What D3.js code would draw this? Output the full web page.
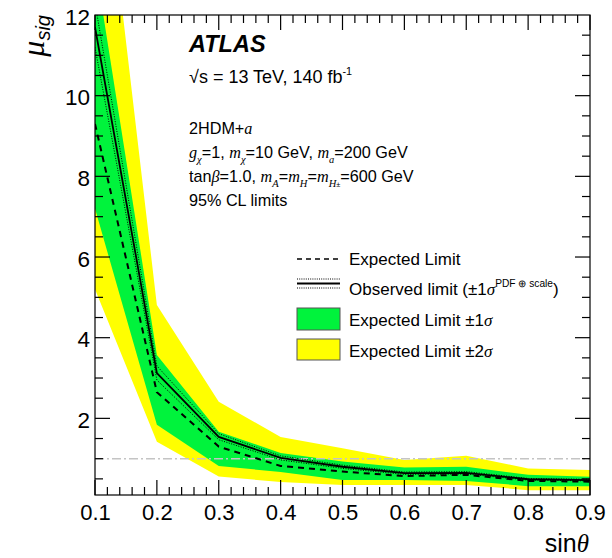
<!DOCTYPE html>
<html>
<head>
<meta charset="utf-8">
<script src="https://cdn.jsdelivr.net/npm/d3@7"></script>
<style>
  html, body { margin: 0; padding: 0; background: #fff; }
  svg { display: block; }
  text { font-family: "Liberation Sans", Arial, Helvetica, sans-serif; fill: #000; }
</style>
</head>
<body>
<svg id="chart" width="612" height="558"></svg>
<script>
// sin(theta) scan points
const sinTheta = [0.1, 0.2, 0.3, 0.4, 0.5, 0.6, 0.7, 0.8, 0.9];
// 95% CL upper limits on the signal strength
const expectedLimit = [9.3, 2.65, 1.30, 0.82, 0.68, 0.57, 0.60, 0.45, 0.43];
const observedLimit = [11.7, 3.12, 1.54, 1.02, 0.80, 0.64, 0.65, 0.49, 0.47];
const observedUp    = [12.3, 3.30, 1.62, 1.07, 0.84, 0.67, 0.68, 0.51, 0.49];
const observedDown  = [11.2, 2.95, 1.47, 0.97, 0.76, 0.61, 0.62, 0.47, 0.45];
const band1Low  = [7.2, 1.84, 0.82, 0.67, 0.47, 0.47, 0.45, 0.32, 0.32];
const band1High = [13.3, 3.57, 1.67, 1.14, 0.93, 0.78, 0.80, 0.60, 0.55];
const band2Low  = [5.2, 1.42, 0.56, 0.42, 0.35, 0.35, 0.35, 0.22, 0.22];
const band2High = [17.9, 4.81, 2.41, 1.54, 1.26, 0.97, 1.07, 0.76, 0.72];
// axis ticks
const xTicks = [0.1, 0.2, 0.3, 0.4, 0.5, 0.6, 0.7, 0.8, 0.9];
const yTicks = [2, 4, 6, 8, 10, 12];

const svg = d3.select("#chart");
const L = 95, R = 590, T = 15, B = 495;
const x = d3.scaleLinear().domain([0.1, 0.9]).range([L, R]);
const y = d3.scaleLinear().domain([0.1, 12]).range([B, T]);

svg.append("clipPath").attr("id", "plotClip")
  .append("rect").attr("x", L).attr("y", T).attr("width", R - L).attr("height", B - T);

const plot = svg.append("g").attr("clip-path", "url(#plotClip)");

const band = (lo, hi) => d3.area()
  .x((d, i) => x(sinTheta[i]))
  .y0((d, i) => y(lo[i]))
  .y1((d, i) => y(hi[i]));
const line = vals => d3.line().x((d, i) => x(sinTheta[i])).y((d, i) => y(vals[i]));

const YELLOW = "#ffff00", GREEN = "#00f33c";

plot.append("path").attr("d", band(band2Low, band2High)(sinTheta)).attr("fill", YELLOW);
plot.append("path").attr("d", band(band1Low, band1High)(sinTheta)).attr("fill", GREEN);

// mu = 1 reference line
plot.append("line").attr("x1", L).attr("x2", R).attr("y1", y(1)).attr("y2", y(1))
  .attr("stroke", "#c4c4c4").attr("stroke-width", 1.5).attr("stroke-dasharray", "9,3,2,3");

plot.append("path").attr("d", line(expectedLimit)(sinTheta)).attr("fill", "none")
  .attr("stroke", "#000").attr("stroke-width", 2).attr("stroke-dasharray", "6,5");
[observedUp, observedDown].forEach(v => {
  plot.append("path").attr("d", line(v)(sinTheta)).attr("fill", "none")
    .attr("stroke", "#000").attr("stroke-width", 1).attr("stroke-dasharray", "1,1.5");
});
plot.append("path").attr("d", line(observedLimit)(sinTheta)).attr("fill", "none")
  .attr("stroke", "#000").attr("stroke-width", 1.8);

// frame
svg.append("rect").attr("x", L).attr("y", T).attr("width", R - L).attr("height", B - T)
  .attr("fill", "none").attr("stroke", "#000").attr("stroke-width", 1.2);

// ticks on all four sides, pointing inwards
const ticksG = svg.append("g").attr("stroke", "#000").attr("stroke-width", 1.2);
const xMinor = d3.range(0, 41).map(i => 0.1 + i * 0.02);
xMinor.forEach((v, i) => {
  const len = i % 5 === 0 ? 15 : 8;
  ticksG.append("line").attr("x1", x(v)).attr("x2", x(v)).attr("y1", B).attr("y2", B - len);
  ticksG.append("line").attr("x1", x(v)).attr("x2", x(v)).attr("y1", T).attr("y2", T + len);
});
const yMinor = d3.range(1, 24).map(i => i * 0.5);
yMinor.forEach(v => {
  const len = Math.abs(v % 2) < 1e-9 ? 15 : 8;
  ticksG.append("line").attr("x1", L).attr("x2", L + len).attr("y1", y(v)).attr("y2", y(v));
  ticksG.append("line").attr("x1", R).attr("x2", R - len).attr("y1", y(v)).attr("y2", y(v));
});

// axis labels through d3 axes (lines hidden, only text kept)
const xAxis = svg.append("g").attr("transform", `translate(0,${B})`)
  .call(d3.axisBottom(x).tickValues(xTicks).tickFormat(d3.format(".1f")).tickSize(0).tickPadding(8));
xAxis.select(".domain").remove();
xAxis.selectAll("text").attr("font-size", 22).attr("font-family", "Liberation Sans, Arial, sans-serif").attr("dy", "0.75em");

const yAxis = svg.append("g").attr("transform", `translate(${L},0)`)
  .call(d3.axisLeft(y).tickValues(yTicks).tickFormat(d3.format("d")).tickSize(0).tickPadding(5));
yAxis.select(".domain").remove();
yAxis.selectAll("text").attr("font-size", 22.5).attr("font-family", "Liberation Sans, Arial, sans-serif").attr("dy", "0.4em");

// axis titles
const xt = svg.append("text").attr("x", R - 1).attr("y", 552).attr("text-anchor", "end").attr("font-size", 25);
xt.append("tspan").text("sin");
xt.append("tspan").attr("font-style", "italic").attr("font-family", "Liberation Serif, Times New Roman, serif").text("θ");

const yt = svg.append("text").attr("transform", `translate(44,${T}) rotate(-90)`).attr("text-anchor", "end");
yt.append("tspan").attr("font-size", 32).attr("font-style", "italic").attr("font-family", "Liberation Serif, Times New Roman, serif").text("μ");
yt.append("tspan").attr("font-size", 20).attr("font-style", "italic").attr("dy", 6).text("sig");

// rich text helper: parts with optional italic serif, subscript, superscript
function rich(xp, yp, size, parts) {
  const t = svg.append("text").attr("x", xp).attr("y", yp).attr("font-size", size);
  let shift = 0;
  parts.forEach(p => {
    const s = t.append("tspan").text(p.t);
    const target = p.sub ? size * 0.3 : p.sup ? -size * 0.45 : 0;
    if (target !== shift) { s.attr("dy", target - shift); shift = target; }
    if (p.sub || p.sup) s.attr("font-size", size * (p.small || 0.65));
    if (p.it) s.attr("font-style", "italic").attr("font-family", "Liberation Serif, Times New Roman, serif");
  });
  return t;
}

svg.append("text").attr("x", 189).attr("y", 52).attr("font-size", 23.5)
  .attr("font-weight", "bold").attr("font-style", "italic").text("ATLAS");
rich(189, 83, 18, [{t: "√s = 13 TeV, 140 fb"}, {t: "-1", sup: true, small: 0.6}]);
rich(189, 134, 16.2, [{t: "2HDM+"}, {t: "a", it: true}]);
rich(189, 158, 16.2, [
  {t: "g", it: true}, {t: "χ", it: true, sub: true}, {t: "=1, "},
  {t: "m", it: true}, {t: "χ", it: true, sub: true}, {t: "=10 GeV, "},
  {t: "m", it: true}, {t: "a", it: true, sub: true}, {t: "=200 GeV"}]);
rich(189, 182, 16.2, [
  {t: "tan"}, {t: "β", it: true}, {t: "=1.0, "},
  {t: "m", it: true}, {t: "A", it: true, sub: true}, {t: "="},
  {t: "m", it: true}, {t: "H", it: true, sub: true}, {t: "="},
  {t: "m", it: true}, {t: "H", it: true, sub: true}, {t: "±", sub: true, small: 0.45}, {t: "=600 GeV"}]);
rich(189, 206, 16.2, [{t: "95% CL limits"}]);

// legend
const lg = svg.append("g");
const lx0 = 297, lx1 = 340, tx = 349;
lg.append("line").attr("x1", lx0).attr("x2", lx1).attr("y1", 259).attr("y2", 259)
  .attr("stroke", "#000").attr("stroke-width", 1.5).attr("stroke-dasharray", "5,4");
[279, 288].forEach(yy => lg.append("line").attr("x1", lx0).attr("x2", lx1).attr("y1", yy).attr("y2", yy)
  .attr("stroke", "#000").attr("stroke-width", 1).attr("stroke-dasharray", "1,1.2"));
lg.append("line").attr("x1", lx0).attr("x2", lx1).attr("y1", 283.5).attr("y2", 283.5)
  .attr("stroke", "#000").attr("stroke-width", 1.8);
lg.append("rect").attr("x", lx0).attr("y", 308).attr("width", lx1 - lx0).attr("height", 22)
  .attr("fill", GREEN).attr("stroke", "#555").attr("stroke-width", 1);
lg.append("rect").attr("x", lx0).attr("y", 339).attr("width", lx1 - lx0).attr("height", 21)
  .attr("fill", YELLOW).attr("stroke", "#555").attr("stroke-width", 1);

rich(tx, 265, 17, [{t: "Expected Limit"}]);
rich(tx, 295, 17, [{t: "Observed limit (±1"}, {t: "σ", it: true},
  {t: "PDF ⊕ scale", sup: true, small: 0.6}, {t: ")"}]);
rich(tx, 326, 17, [{t: "Expected Limit ±1"}, {t: "σ", it: true}]);
rich(tx, 357, 17, [{t: "Expected Limit ±2"}, {t: "σ", it: true}]);
</script>
</body>
</html>
